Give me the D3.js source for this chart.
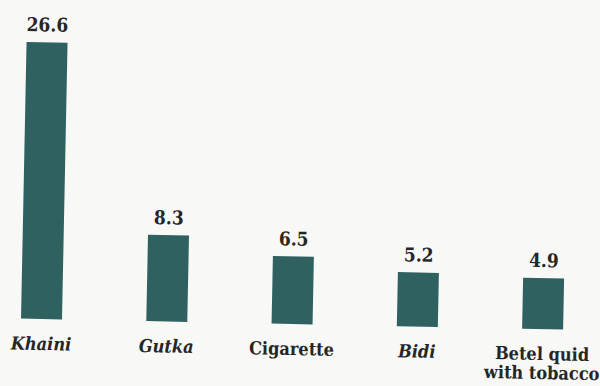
<!DOCTYPE html>
<html>
<head>
<meta charset="utf-8">
<script src="https://cdn.jsdelivr.net/npm/d3@7"></script>
<style>
  html, body { margin: 0; padding: 0; background: #f8f8f7; }
  svg { display: block; }
  text { font-family: "DejaVu Serif Condensed", "DejaVu Serif", serif; font-weight: bold; fill: #262626; }
</style>
</head>
<body>
<script>
// Data
const categories = ["Khaini", "Gutka", "Cigarette", "Bidi", "Betel quid with tobacco"];
const values = [26.6, 8.3, 6.5, 5.2, 4.9];
const italicCats = ["Khaini", "Gutka", "Bidi"];
const valueLabels = ["26.6", "8.3", "6.5", "5.2", "4.9"];

const W = 600, H = 386;
const svg = d3.select("body").append("svg").attr("width", W).attr("height", H);
svg.append("rect").attr("width", W).attr("height", H).attr("fill", "#f8f8f7");

const baseY = 319, pivotX = 41.5;
const g = svg.append("g").attr("transform", `rotate(1.15, ${pivotX}, ${baseY})`);

const step = 125.3;
const x = d3.scaleBand()
  .domain(categories)
  .range([pivotX - step / 2, pivotX - step / 2 + step * categories.length])
  .paddingInner(1 - 41 / step)
  .paddingOuter((1 - 41 / step) / 2);

const y = d3.scaleLinear().domain([0, 26.6]).range([baseY, baseY - 26.6 * 10.4]);

const data = categories.map((c, i) => ({ c, v: values[i], label: valueLabels[i] }));

g.selectAll("rect.bar").data(data).join("rect")
  .attr("class", "bar")
  .attr("x", d => x(d.c))
  .attr("y", d => y(d.v))
  .attr("width", x.bandwidth())
  .attr("height", d => y(0) - y(d.v))
  .attr("fill", "#2f6161");

g.selectAll("text.val").data(data).join("text")
  .attr("class", "val")
  .attr("x", d => x(d.c) + x.bandwidth() / 2)
  .attr("y", d => y(d.v) - 11)
  .attr("text-anchor", "middle")
  .attr("font-size", 19)
  .text(d => d.label);

const catText = g.selectAll("text.cat").data(data).join("text")
  .attr("class", "cat")
  .attr("x", d => x(d.c) + x.bandwidth() / 2)
  .attr("y", baseY + 31)
  .attr("text-anchor", "middle")
  .attr("font-size", 18)
  .attr("font-style", d => italicCats.includes(d.c) ? "italic" : "normal");

catText.each(function(d) {
  const t = d3.select(this);
  if (d.c === "Betel quid with tobacco") {
    t.append("tspan").attr("x", x(d.c) + x.bandwidth() / 2).attr("dy", 0).text("Betel quid");
    t.append("tspan").attr("x", x(d.c) + x.bandwidth() / 2).attr("dy", 19).text("with tobacco");
  } else {
    t.text(d.c);
  }
});
</script>
</body>
</html>
